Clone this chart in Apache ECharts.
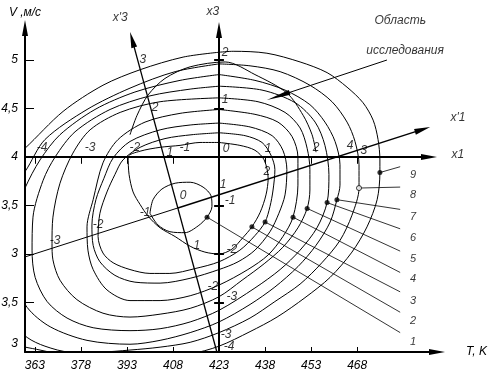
<!DOCTYPE html>
<html><head><meta charset="utf-8">
<script src="https://cdn.jsdelivr.net/npm/echarts@6/dist/echarts.min.js"></script>
<style>html,body{margin:0;padding:0;background:#fff}#c{width:488px;height:377px}</style>
</head><body><div id="c"></div>
<script>
// ---- axis ticks ----
const tTicks = [363,378,393,408,423,438,453,468];
const vTicks = [2,2.5,3,3.5,4,4.5,5];
const vTickLabels = ['3','3,5','3','3,5','4','4,5','5'];

// ---- contour lines [T, V] ----
const contour0 = [[400.5,3.42],[401.5,3.56],[404.4,3.67],[408.7,3.73],[413.6,3.74],[417.8,3.69],[420.4,3.60],[420.7,3.49],[419.1,3.38],[416.2,3.29],[411.9,3.22],[407.0,3.23],[403.1,3.30],[400.5,3.42]];
const contour1 = [[423.0,4.15],[429.8,4.12],[434.7,4.07],[437.7,3.97],[439.0,3.78],[438.3,3.61],[436.4,3.43],[433.7,3.28],[430.8,3.17],[427.2,3.05],[423.0,3.00],[418.4,3.02],[413.6,3.08],[408.7,3.18],[403.8,3.27],[399.9,3.39],[397.3,3.51],[395.0,3.64],[393.7,3.82],[393.4,4.00],[397.3,4.06],[403.8,4.10],[410.3,4.12],[416.8,4.15],[423.0,4.15]];
const contour2 = [[423.0,4.25],[431.5,4.22],[437.0,4.15],[439.9,4.02],[441.2,3.87],[440.6,3.66],[439.6,3.49],[438.0,3.33],[434.7,3.19],[429.8,3.04],[423.0,2.92],[415.2,2.85],[407.0,2.80],[400.5,2.80],[394.0,2.84],[388.5,2.91],[385.2,3.01],[383.6,3.18],[384.2,3.42],[386.5,3.64],[389.1,3.82],[391.7,3.97],[397.3,4.10],[405.4,4.19],[414.2,4.23],[423.0,4.25]];
const contour3 = [[423.0,4.35],[433.1,4.31],[440.3,4.22],[443.8,4.07],[445.1,3.87],[444.5,3.61],[442.5,3.42],[439.6,3.23],[434.7,3.04],[429.2,2.92],[423.0,2.84],[413.6,2.75],[403.8,2.70],[395.6,2.71],[389.1,2.78],[384.2,2.92],[382.0,3.09],[381.6,3.30],[382.9,3.56],[385.5,3.78],[388.5,3.99],[394.0,4.16],[403.8,4.28],[413.6,4.33],[423.0,4.35]];
const contour4 = [[423.0,4.49],[434.7,4.44],[442.2,4.36],[446.8,4.21],[448.7,4.00],[448.7,3.71],[447.1,3.38],[443.8,3.18],[439.0,2.99],[432.4,2.84],[423.0,2.68],[413.6,2.57],[403.8,2.52],[394.0,2.52],[386.5,2.63],[382.0,2.84],[380.3,3.04],[380.0,3.28],[382.0,3.56],[385.2,3.94],[390.1,4.18],[398.9,4.36],[410.3,4.45],[423.0,4.49]];
const contour5 = [[423.0,4.61],[435.7,4.57],[444.5,4.46],[449.4,4.30],[451.7,4.09],[452.6,3.87],[452.6,3.66],[451.7,3.47],[448.7,3.27],[443.8,3.07],[437.7,2.90],[430.5,2.73],[423.0,2.56],[413.6,2.44],[403.8,2.38],[394.0,2.35],[385.2,2.39],[376.7,2.53],[371.2,2.73],[368.9,2.94],[368.6,3.11],[368.9,3.38],[371.2,3.73],[375.4,4.04],[381.0,4.28],[390.8,4.46],[403.8,4.57],[423.0,4.61]];
const contour6 = [[423.0,4.73],[437.0,4.69],[447.8,4.56],[454.3,4.36],[457.5,4.12],[458.8,3.82],[458.2,3.53],[454.9,3.27],[449.4,3.04],[442.9,2.84],[434.7,2.65],[423.0,2.42],[413.6,2.30],[403.8,2.23],[394.0,2.21],[382.0,2.24],[373.5,2.34],[367.0,2.51],[363.1,2.76],[362.1,3.04],[362.4,3.38],[365.7,3.76],[369.6,4.00],[376.1,4.26],[387.5,4.49],[400.5,4.63],[413.6,4.70],[423.0,4.73]];
const contour7 = [[423.0,4.85],[434.7,4.79],[444.5,4.69],[452.6,4.54],[457.5,4.36],[460.8,4.16],[462.4,3.92],[462.4,3.71],[461.4,3.56],[459.2,3.33],[454.6,3.09],[448.7,2.87],[441.2,2.66],[433.1,2.48],[423.0,2.30],[413.6,2.19],[403.8,2.11],[394.0,2.07],[380.0,2.11],[368.0,2.25],[360.5,2.45],[356.6,2.73],[355.6,3.04],[356.6,3.40],[359.8,3.68],[364.7,3.97],[371.2,4.23],[382.6,4.49],[395.6,4.67],[410.3,4.79],[423.0,4.85]];
const contour8 = [[423.0,4.96],[433.1,4.94],[442.9,4.88],[452.6,4.74],[459.8,4.57],[464.7,4.36],[467.3,4.16],[468.6,3.92],[468.6,3.68],[466.3,3.40],[462.4,3.14],[456.5,2.91],[449.4,2.69],[441.2,2.51],[433.1,2.34],[423.0,2.19],[413.6,2.09],[403.8,2.04],[394.0,2.01],[384.2,1.99],[374.5,1.99],[366.3,2.05],[360.5,2.14],[354.9,2.32],[351.7,2.63],[350.0,3.04],[351.7,3.45],[355.6,3.71],[359.8,3.85],[366.3,4.18],[380.0,4.49],[394.0,4.71],[408.7,4.88],[423.0,4.96]];
const contour9 = [[423.0,5.08],[427.6,5.09],[438.6,5.07],[449.4,4.98],[458.2,4.87],[464.7,4.72],[469.9,4.56],[473.2,4.38],[474.8,4.18],[475.4,3.97],[475.4,3.84],[474.5,3.56],[471.2,3.28],[466.3,3.02],[459.2,2.76],[451.0,2.55],[441.9,2.35],[433.1,2.20],[423.0,2.05],[413.6,1.97],[400.5,1.93],[387.5,1.93],[374.5,1.96],[364.7,2.01],[354.9,2.11],[350.0,2.53],[346.8,3.04],[348.4,3.56],[353.3,3.92],[359.8,4.09],[372.2,4.47],[385.2,4.74],[397.3,4.90],[411.3,5.03],[423.0,5.08]];
const extraCurve = [[394.0,4.23],[396.3,4.43],[399.9,4.64],[405.4,4.81],[413.6,4.93],[425.0,4.98],[434.7,4.85],[445.1,4.66],[450.4,4.43],[453.3,4.23],[454.6,4.05]];

// ---- experiment points 1..9 and their leaders ----
const pointNames = ['1','2','3','4','5','6','7','8','9'];
const pointsT = [419.1,433.7,438.0,447.1,451.7,458.2,461.4,468.6,475.4];
const pointsV = [3.38,3.28,3.33,3.38,3.47,3.53,3.56,3.68,3.84];
const hollowPoint = '8';
const leaderEndT = 482.0;
const leaderEndV = [2.19,2.40,2.61,2.81,3.03,3.26,3.46,3.69,3.90];
const pointLabelT = 486.2;
const pointLabelV = [2.09,2.31,2.52,2.74,2.95,3.17,3.38,3.61,3.82];

// ---- coded axes (T, V) ----
const axisX1 = [[359.8,4.0],[491.4,4.0]];
const axisX3 = [[423,1.99],[423,5.31]];
const axisX1pLeft = [[359.8,2.97],[409.6,3.475]];
const axisX1pRight = [[409.6,3.475],[489.3,4.285]];
const axisX3p = [[422.3,1.99],[394.7,5.21]];
const regionArrow = [[477.7,5.00],[442.3,4.627]];
const x3TickV = [5,4.5,3.5,3,2.5];
const x1TickT = [363,378,393,408,438,453,468];

// ---- text labels [T, V, text] ----
const x1Labels = [[365.4,4.10,'-4'],[381.0,4.10,'-3'],[395.6,4.10,'-2'],[411.9,4.10,'-1'],[425.3,4.09,'0'],[439.0,4.09,'1'],[454.6,4.10,'2'],[470.2,4.07,'3']];
const x3Labels = [[425.0,5.08,'2'],[425.0,4.59,'1'],[426.6,3.55,'-1'],[427.2,3.05,'-2'],[427.2,2.56,'-3'],[426.3,2.04,'-4']];
const x1pLabels = [[411.3,3.60,'0'],[424.3,3.72,'1'],[438.6,3.85,'2'],[465.7,4.12,'4'],[398.9,3.43,'-1'],[383.6,3.30,'-2'],[369.6,3.14,'-3']];
const x3pLabels = [[398.2,5.00,'3'],[402.2,4.51,'2'],[407.0,4.04,'1'],[415.8,3.09,'1'],[421.0,2.66,'-2'],[425.3,2.17,'-3']];
const axisTitles = [[421.0,5.495,'x3'],[390.8,5.44,"x'3"],[500.8,4.41,"x'1"],[500.8,4.02,'x1']];
const regionText = [[482.0,5.41,'Область'],[483.6,5.10,'исследования']];

const FONT = "'Liberation Sans', 'DejaVu Sans', Arial, sans-serif";
const ARROW16 = 'path://M0,0L3,16L-3,16Z M-8,0 M8,16';
const ARROW24 = 'path://M0,0L2.5,24L-2.5,24Z M-12,0 M12,24';
const txt = (size) => ({color:'#000', fontSize:size, fontStyle:'italic', fontFamily:FONT});

const series = [];
[contour0,contour1,contour2,contour3,contour4,contour5,contour6,contour7,contour8,contour9,extraCurve].forEach(c => {
  series.push({type:'line', data:c, showSymbol:false, symbol:'none', smooth:0.3, clip:true, silent:true,
    lineStyle:{color:'#000', width:1}, z:2});
});
function linesSeries(segs, width, arrow, size) {
  return {type:'lines', coordinateSystem:'cartesian2d', clip:false, silent:true, polyline:false,
    symbol: arrow ? ['none', arrow] : ['none','none'], symbolSize: size || 10,
    itemStyle:{color:'#000', opacity:1},
    lineStyle:{color:'#000', width:width, opacity:1, curveness:0},
    data: segs.map(s => ({coords:s})), z:5};
}
series.push(linesSeries([axisX1, axisX3], 2, ARROW16, 16));
series.push(linesSeries([axisX1pRight], 1.5, ARROW16, 16));
series.push(linesSeries([axisX3p], 1.3, ARROW16, 16));
series.push(linesSeries([axisX1pLeft], 1, null));
series.push(linesSeries([regionArrow], 1, ARROW24, 24));
series.push(linesSeries(x3TickV.map(v => [[421.4,v],[424.6,v]]), 2, null));
series.push(linesSeries(x1TickT.map(t => [[t,4.0],[t,3.93]]), 1, null));
series.push(linesSeries(pointsT.map((t,i) => [[t,pointsV[i]],[leaderEndT,leaderEndV[i]]]), 0.8, null));
series.push({type:'scatter', silent:true, clip:false, z:8,
  data: pointsT.map((t,i) => pointNames[i] === hollowPoint
    ? {value:[t,pointsV[i]], itemStyle:{color:'#fff', borderColor:'#000', borderWidth:1}}
    : {value:[t,pointsV[i]]}),
  symbol:'circle', symbolSize:5, itemStyle:{color:'#000'}});
function textSeries(arr, size) {
  return {type:'scatter', silent:true, clip:false, z:10, symbol:'circle', symbolSize:1,
    itemStyle:{color:'rgba(0,0,0,0)'},
    data: arr.map(d => ({value:[d[0],d[1]], name:d[2]})),
    label:Object.assign({show:true, position:'inside', formatter:'{b}'}, txt(size))};
}
series.push(textSeries(x1Labels, 12));
series.push(textSeries(x3Labels, 12));
series.push(textSeries(x1pLabels, 12));
series.push(textSeries(x3pLabels, 12));
series.push(textSeries(axisTitles, 12));
series.push(textSeries(regionText, 12));
series.push(textSeries(pointLabelV.map((v,i) => [pointLabelT, v, pointNames[i]]), 11));

const chart = echarts.init(document.getElementById('c'), null, {renderer:'canvas'});
chart.setOption({
  animation:false,
  backgroundColor:'#fff',
  grid:{left:25, right:51, top:28, bottom:25, containLabel:false, outerBoundsMode:'none'},
  xAxis:{type:'value', min:359.8, max:494.0, name:'T, K', nameLocation:'end', nameGap:29,
    nameTextStyle:txt(12),
    axisLine:{show:true, onZero:false, symbol:['none','triangle'], symbolSize:[6,16], lineStyle:{color:'#000', width:2}},
    axisTick:{show:true, inside:true, length:5, customValues:tTicks, lineStyle:{color:'#000', width:1}},
    axisLabel:Object.assign({show:true, margin:8, customValues:tTicks, formatter:v => String(v)}, txt(12)),
    splitLine:{show:false}},
  yAxis:{type:'value', min:1.99, max:5.33, name:'V ,м/с', nameLocation:'end', nameGap:9,
    nameTextStyle:txt(12),
    axisLine:{show:true, onZero:false, symbol:['none','triangle'], symbolSize:[6,16], lineStyle:{color:'#000', width:2}},
    axisTick:{show:true, inside:true, length:9, customValues:vTicks, lineStyle:{color:'#000', width:1}},
    axisLabel:Object.assign({show:true, margin:7, customValues:vTicks,
      rich:{lo:Object.assign({padding:[0,0,14,0]}, txt(12))},
      formatter:v => { const i = vTicks.findIndex(x => Math.abs(x - v) < 1e-6); if (i < 0) return ''; return i === 0 ? '{lo|' + vTickLabels[i] + '}' : vTickLabels[i]; }}, txt(12)),
    splitLine:{show:false}},
  series:series
});
</script>
</body></html>
